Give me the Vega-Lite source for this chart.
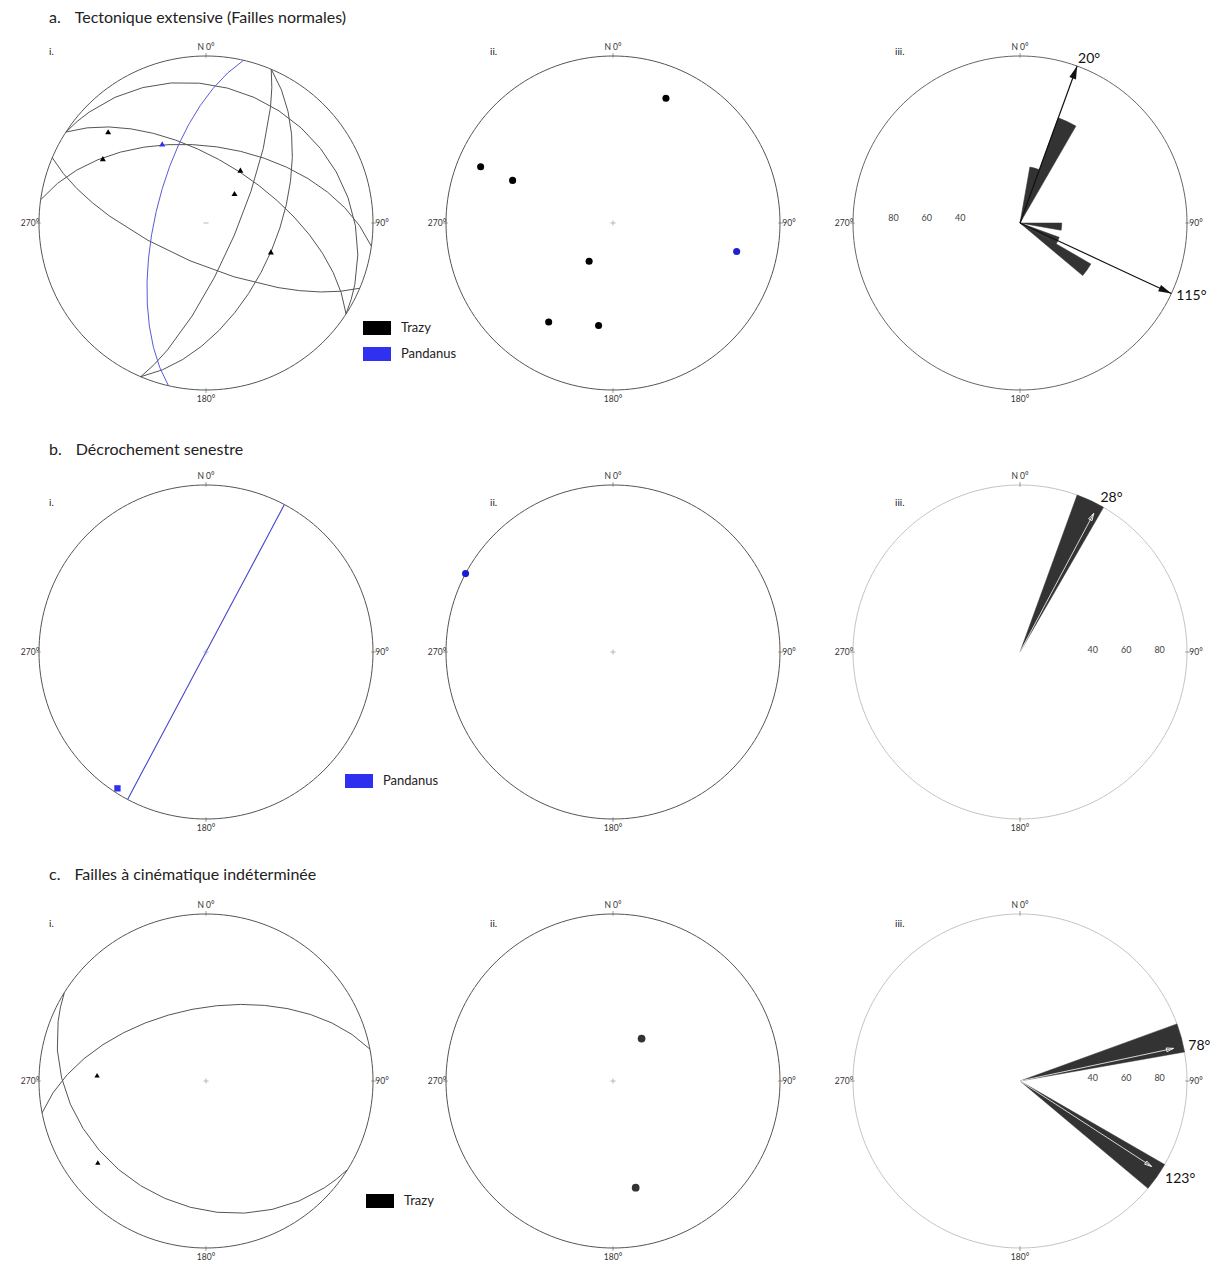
{
  "$schema": "https://vega.github.io/schema/vega-lite/v6.json",
  "background": "white",
  "padding": {"left": 11, "top": 10, "right": 0, "bottom": 0},
  "autosize": {"type": "pad"},
  "columns": 3,
  "spacing": {"row": 101, "column": 17},
  "bounds": "flush",
  "align": "all",
  "resolve": {
    "scale": {"color": "independent", "theta": "independent", "radius": "independent"},
    "legend": {"color": "independent"}
  },
  "config": {
    "view": {"stroke": null},
    "title": {"anchor": "start", "frame": "group", "font": "Lato", "fontSize": 16, "fontWeight": "normal", "color": "#222", "subtitleFont": "Lato", "subtitleFontSize": 10, "subtitleColor": "#222"},
    "legend": {"orient": "none", "title": null, "symbolType": "M-1,-0.5H1V0.5H-1Z", "symbolSize": 784, "symbolStrokeWidth": 0, "symbolOpacity": 1, "labelFont": "Lato", "labelFontSize": 13, "labelColor": "#222", "labelOffset": 10, "rowPadding": 5, "padding": 0}
  },
  "datasets": {
    "card": [{"az": 0, "plunge": 0, "label": "N 0°"}, {"az": 90, "plunge": 0, "label": "90°"}, {"az": 180, "plunge": 0, "label": "180°"}, {"az": 270, "plunge": 0, "label": "270°"}],
    "center": [{"trend": 0, "plunge": 90}],
    "nums": [{"v": 40, "label": "40"}, {"v": 60, "label": "60"}, {"v": 80, "label": "80"}],
    "planesA": [
      {"type": "Feature", "properties": {"site": "Trazy", "dipdir": 203, "dip": 70}, "geometry": {"type": "LineString", "coordinates": [[113, 0], [203, 70], [293, 0]]}},
      {"type": "Feature", "properties": {"site": "Trazy", "dipdir": 113, "dip": 75}, "geometry": {"type": "LineString", "coordinates": [[23, 0], [113, 75], [203, 0]]}},
      {"type": "Feature", "properties": {"site": "Trazy", "dipdir": 113, "dip": 55}, "geometry": {"type": "LineString", "coordinates": [[23, 0], [113, 55], [203, 0]]}},
      {"type": "Feature", "properties": {"site": "Trazy", "dipdir": 33, "dip": 21}, "geometry": {"type": "LineString", "coordinates": [[303, 0], [33, 21], [123, 0]]}},
      {"type": "Feature", "properties": {"site": "Trazy", "dipdir": 33, "dip": 60}, "geometry": {"type": "LineString", "coordinates": [[303, 0], [33, 60], [123, 0]]}},
      {"type": "Feature", "properties": {"site": "Trazy", "dipdir": 8, "dip": 52}, "geometry": {"type": "LineString", "coordinates": [[278, 0], [8, 52], [98, 0]]}}
    ],
    "planesAP": [
      {"type": "Feature", "properties": {"site": "Pandanus", "dipdir": 283, "dip": 65}, "geometry": {"type": "LineString", "coordinates": [[193, 0], [283, 65], [13, 0]]}}
    ],
    "linA": [
      {"site": "Trazy", "trend": 313, "plunge": 21}, {"site": "Trazy", "trend": 302, "plunge": 28},
      {"site": "Trazy", "trend": 33, "plunge": 59}, {"site": "Trazy", "trend": 44, "plunge": 70},
      {"site": "Trazy", "trend": 114, "plunge": 55}, {"site": "Pandanus", "trend": 331, "plunge": 45}
    ],
    "polesA": [
      {"site": "Trazy", "trend": 23, "plunge": 20}, {"site": "Trazy", "trend": 293, "plunge": 15},
      {"site": "Trazy", "trend": 293, "plunge": 35}, {"site": "Trazy", "trend": 212, "plunge": 68},
      {"site": "Trazy", "trend": 213, "plunge": 30}, {"site": "Trazy", "trend": 188, "plunge": 38},
      {"site": "Pandanus", "trend": 103, "plunge": 25}
    ],
    "roseA": [{"from": 10, "to": 20, "v": 34}, {"from": 20, "to": 30, "v": 67}, {"from": 90, "to": 100, "v": 25}, {"from": 110, "to": 120, "v": 25}, {"from": 120, "to": 130, "v": 49}],
    "arrA": [
      {"type": "Feature", "properties": {"az": 20}, "geometry": {"type": "LineString", "coordinates": [[0, 90], [20, 0]]}},
      {"type": "Feature", "properties": {"az": 115}, "geometry": {"type": "LineString", "coordinates": [[0, 90], [115, 0]]}}
    ],
    "headA": [{"az": 20, "plunge": 0}, {"az": 115, "plunge": 0}],
    "planesB": [
      {"type": "Feature", "properties": {"site": "Pandanus", "dipdir": 298, "dip": 90}, "geometry": {"type": "LineString", "coordinates": [[208, 0], [298, 90], [28, 0]]}}
    ],
    "linB": [{"site": "Pandanus", "trend": 213, "plunge": 3}],
    "polesB": [{"site": "Pandanus", "trend": 298, "plunge": 0}],
    "roseB": [{"from": 20, "to": 30, "v": 100}],
    "meanB": [{"type": "Feature", "properties": {"az": 28}, "geometry": {"type": "LineString", "coordinates": [[0, 90], [28, 6.7]]}}],
    "meanHeadB": [{"az": 28, "plunge": 6.7}],
    "planesC": [
      {"type": "Feature", "properties": {"site": "Trazy", "dipdir": 212, "dip": 27}, "geometry": {"type": "LineString", "coordinates": [[122, 0], [212, 27], [302, 0]]}},
      {"type": "Feature", "properties": {"site": "Trazy", "dipdir": 349, "dip": 54}, "geometry": {"type": "LineString", "coordinates": [[259, 0], [349, 54], [79, 0]]}}
    ],
    "linC": [{"site": "Trazy", "trend": 273, "plunge": 35}, {"site": "Trazy", "trend": 233, "plunge": 20}],
    "polesC": [{"site": "Trazy", "trend": 34, "plunge": 65}, {"site": "Trazy", "trend": 168, "plunge": 35}],
    "roseC": [{"from": 70, "to": 80, "v": 100}, {"from": 120, "to": 130, "v": 100}],
    "meanC": [
      {"type": "Feature", "properties": {"az": 78}, "geometry": {"type": "LineString", "coordinates": [[0, 90], [78, 6.7]]}},
      {"type": "Feature", "properties": {"az": 123}, "geometry": {"type": "LineString", "coordinates": [[0, 90], [123, 6.7]]}}
    ],
    "meanHeadC": [{"az": 78, "plunge": 6.7}, {"az": 123, "plunge": 6.7}]
  },
  "concat": [
    {
      "width": 390, "height": 328,
      "title": {"text": "a.\u2003\u2009Tectonique extensive (Failles normales)", "subtitle": "\u2003\u2003\u2003\u2002i.", "dx": 38, "offset": -14, "subtitlePadding": 21},
      "projection": {"type": "azimuthalEqualArea", "rotate": [0, -90, 0], "reflectY": true, "clipAngle": 90, "scale": 118.09, "translate": [195, 164]},
      "layer": [
        {"data": {"sphere": true}, "mark": {"type": "geoshape", "clip": false, "filled": false, "stroke": "#555", "strokeWidth": 1}},
        {"data": {"name": "planesA"}, "mark": {"type": "geoshape", "clip": false, "filled": false, "stroke": "#555", "strokeWidth": 1}},
        {"data": {"name": "planesAP"}, "mark": {"type": "geoshape", "clip": false, "filled": false, "stroke": "#5a5ad6", "strokeWidth": 1}},
        {"data": {"name": "center"}, "mark": {"type": "point", "clip": false, "shape": "M-1,0L1,0", "size": 25, "filled": false, "stroke": "#999", "strokeWidth": 1},
         "encoding": {"longitude": {"field": "trend", "type": "quantitative"}, "latitude": {"field": "plunge", "type": "quantitative"}}},
        {"data": {"name": "card"}, "mark": {"type": "point", "clip": false, "shape": "M0,0.6L0,-1", "size": 36, "filled": false, "stroke": "#555", "strokeWidth": 0.8},
         "encoding": {"longitude": {"field": "az", "type": "quantitative"}, "latitude": {"field": "plunge", "type": "quantitative"}, "angle": {"field": "az", "type": "quantitative", "scale": null}}},
        {"data": {"name": "card"}, "mark": {"type": "text", "font": "Lato", "fontSize": 8.5, "color": "#333", "radiusOffset": 9},
         "encoding": {"theta": {"field": "az", "type": "quantitative", "stack": false, "scale": {"domain": [0, 360], "range": [0, 6.283185307179586]}}, "radius": {"datum": 100, "type": "quantitative", "scale": {"type": "linear", "domain": [0, 100], "range": [0, 167], "zero": true}}, "text": {"field": "label"}}},
        {"data": {"name": "linA"}, "mark": {"type": "point", "clip": false, "shape": "triangle-up", "size": 36, "filled": true, "opacity": 1},
         "encoding": {"longitude": {"field": "trend", "type": "quantitative"}, "latitude": {"field": "plunge", "type": "quantitative"},
           "color": {"field": "site", "type": "nominal", "scale": {"domain": ["Trazy", "Pandanus"], "range": ["#000000", "#3030f0"]}, "legend": {"legendX": 352, "legendY": 255}}}}
      ]
    },
    {
      "width": 390, "height": 328,
      "title": {"text": "\u00a0", "subtitle": "ii.", "dx": 72, "offset": -14, "subtitlePadding": 21},
      "projection": {"type": "azimuthalEqualArea", "rotate": [0, -90, 0], "reflectY": true, "clipAngle": 90, "scale": 118.09, "translate": [195, 164]},
      "layer": [
        {"data": {"sphere": true}, "mark": {"type": "geoshape", "clip": false, "filled": false, "stroke": "#555", "strokeWidth": 1}},
        {"data": {"name": "center"}, "mark": {"type": "point", "clip": false, "shape": "M-1,0L1,0M0,-1L0,1", "size": 25, "filled": false, "stroke": "#999", "strokeWidth": 1},
         "encoding": {"longitude": {"field": "trend", "type": "quantitative"}, "latitude": {"field": "plunge", "type": "quantitative"}}},
        {"data": {"name": "card"}, "mark": {"type": "point", "clip": false, "shape": "M0,0.6L0,-1", "size": 36, "filled": false, "stroke": "#555", "strokeWidth": 0.8},
         "encoding": {"longitude": {"field": "az", "type": "quantitative"}, "latitude": {"field": "plunge", "type": "quantitative"}, "angle": {"field": "az", "type": "quantitative", "scale": null}}},
        {"data": {"name": "card"}, "mark": {"type": "text", "font": "Lato", "fontSize": 8.5, "color": "#333", "radiusOffset": 9},
         "encoding": {"theta": {"field": "az", "type": "quantitative", "stack": false, "scale": {"domain": [0, 360], "range": [0, 6.283185307179586]}}, "radius": {"datum": 100, "type": "quantitative", "scale": {"type": "linear", "domain": [0, 100], "range": [0, 167], "zero": true}}, "text": {"field": "label"}}},
        {"data": {"name": "polesA"}, "mark": {"type": "point", "clip": false, "shape": "circle", "size": 50, "filled": true, "opacity": 1},
         "encoding": {"longitude": {"field": "trend", "type": "quantitative"}, "latitude": {"field": "plunge", "type": "quantitative"},
           "color": {"field": "site", "type": "nominal", "scale": {"domain": ["Trazy", "Pandanus"], "range": ["#000000", "#2020d0"]}, "legend": null}}}
      ]
    },
    {
      "width": 390, "height": 328,
      "title": {"text": "\u00a0", "subtitle": "iii.", "dx": 70, "offset": -14, "subtitlePadding": 21},
      "projection": {"type": "azimuthalEqualArea", "rotate": [0, -90, 0], "reflectY": true, "clipAngle": 90, "scale": 118.09, "translate": [195, 164]},
      "layer": [
        {"data": {"sphere": true}, "mark": {"type": "geoshape", "clip": false, "filled": false, "stroke": "#666", "strokeWidth": 1}},
        {"data": {"name": "roseA"}, "mark": {"type": "arc", "clip": false, "color": "#333", "stroke": "#333", "strokeWidth": 0.5},
         "encoding": {"theta": {"field": "from", "type": "quantitative", "stack": false, "scale": {"domain": [0, 360], "range": [0, 6.283185307179586]}}, "theta2": {"field": "to"},
           "radius": {"field": "v", "type": "quantitative", "scale": {"type": "linear", "domain": [0, 100], "range": [0, 167], "zero": true}}}},
        {"data": {"name": "arrA"}, "mark": {"type": "geoshape", "clip": false, "filled": false, "stroke": "#111", "strokeWidth": 1.2}},
        {"data": {"name": "headA"}, "mark": {"type": "point", "clip": false, "shape": "M0,0L-0.35,1.3L0.35,1.3Z", "size": 400, "filled": true, "color": "#111", "opacity": 1},
         "encoding": {"longitude": {"field": "az", "type": "quantitative"}, "latitude": {"field": "plunge", "type": "quantitative"}, "angle": {"field": "az", "type": "quantitative", "scale": null}}},
        {"data": {"name": "nums"}, "mark": {"type": "text", "font": "Lato", "fontSize": 9, "color": "#444", "dx": 7, "dy": -5},
         "encoding": {"theta": {"datum": 270, "type": "quantitative", "scale": {"domain": [0, 360], "range": [0, 6.283185307179586]}}, "radius": {"field": "v", "type": "quantitative", "scale": {"type": "linear", "domain": [0, 100], "range": [0, 167], "zero": true}}, "text": {"field": "label"}}},
        {"data": {"name": "card"}, "mark": {"type": "point", "clip": false, "shape": "M0,0.6L0,-1", "size": 36, "filled": false, "stroke": "#555", "strokeWidth": 0.8},
         "encoding": {"longitude": {"field": "az", "type": "quantitative"}, "latitude": {"field": "plunge", "type": "quantitative"}, "angle": {"field": "az", "type": "quantitative", "scale": null}}},
        {"data": {"name": "card"}, "mark": {"type": "text", "font": "Lato", "fontSize": 8.5, "color": "#333", "radiusOffset": 9},
         "encoding": {"theta": {"field": "az", "type": "quantitative", "stack": false, "scale": {"domain": [0, 360], "range": [0, 6.283185307179586]}}, "radius": {"datum": 100, "type": "quantitative", "scale": {"type": "linear", "domain": [0, 100], "range": [0, 167], "zero": true}}, "text": {"field": "label"}}},
        {"data": {"values": [{"az": 20, "label": "20°"}]}, "mark": {"type": "text", "font": "Lato", "fontSize": 14, "color": "#111", "align": "left", "baseline": "middle", "dx": 1, "dy": -7},
         "encoding": {"theta": {"field": "az", "type": "quantitative", "stack": false, "scale": {"domain": [0, 360], "range": [0, 6.283185307179586]}}, "radius": {"datum": 100, "type": "quantitative", "scale": {"type": "linear", "domain": [0, 100], "range": [0, 167], "zero": true}}, "text": {"field": "label"}}},
        {"data": {"values": [{"az": 115, "label": "115°"}]}, "mark": {"type": "text", "font": "Lato", "fontSize": 14, "color": "#111", "align": "left", "baseline": "middle", "dx": 5, "dy": 2},
         "encoding": {"theta": {"field": "az", "type": "quantitative", "stack": false, "scale": {"domain": [0, 360], "range": [0, 6.283185307179586]}}, "radius": {"datum": 100, "type": "quantitative", "scale": {"type": "linear", "domain": [0, 100], "range": [0, 167], "zero": true}}, "text": {"field": "label"}}}
      ]
    },
    {
      "width": 390, "height": 328,
      "title": {"text": "b.\u2003\u2009Décrochement senestre", "subtitle": "\u2003\u2003\u2003\u2002i.", "dx": 38, "offset": -36, "subtitlePadding": 40},
      "projection": {"type": "azimuthalEqualArea", "rotate": [0, -90, 0], "reflectY": true, "clipAngle": 90, "scale": 118.09, "translate": [195, 164]},
      "layer": [
        {"data": {"sphere": true}, "mark": {"type": "geoshape", "clip": false, "filled": false, "stroke": "#555", "strokeWidth": 1}},
        {"data": {"name": "planesB"}, "mark": {"type": "geoshape", "clip": false, "filled": false, "stroke": "#4646cc", "strokeWidth": 1.1}},
        {"data": {"name": "center"}, "mark": {"type": "point", "clip": false, "shape": "M-1,0L1,0M0,-1L0,1", "size": 25, "filled": false, "stroke": "#8888dd", "strokeWidth": 1},
         "encoding": {"longitude": {"field": "trend", "type": "quantitative"}, "latitude": {"field": "plunge", "type": "quantitative"}}},
        {"data": {"name": "card"}, "mark": {"type": "point", "clip": false, "shape": "M0,0.6L0,-1", "size": 36, "filled": false, "stroke": "#555", "strokeWidth": 0.8},
         "encoding": {"longitude": {"field": "az", "type": "quantitative"}, "latitude": {"field": "plunge", "type": "quantitative"}, "angle": {"field": "az", "type": "quantitative", "scale": null}}},
        {"data": {"name": "card"}, "mark": {"type": "text", "font": "Lato", "fontSize": 8.5, "color": "#333", "radiusOffset": 9},
         "encoding": {"theta": {"field": "az", "type": "quantitative", "stack": false, "scale": {"domain": [0, 360], "range": [0, 6.283185307179586]}}, "radius": {"datum": 100, "type": "quantitative", "scale": {"type": "linear", "domain": [0, 100], "range": [0, 167], "zero": true}}, "text": {"field": "label"}}},
        {"data": {"name": "linB"}, "mark": {"type": "point", "clip": false, "shape": "square", "size": 40, "filled": true, "opacity": 1},
         "encoding": {"longitude": {"field": "trend", "type": "quantitative"}, "latitude": {"field": "plunge", "type": "quantitative"},
           "color": {"field": "site", "type": "nominal", "scale": {"domain": ["Pandanus"], "range": ["#2f2fef"]}, "legend": {"legendX": 334, "legendY": 279}}}}
      ]
    },
    {
      "width": 390, "height": 328,
      "title": {"text": "\u00a0", "subtitle": "ii.", "dx": 72, "offset": -36, "subtitlePadding": 40},
      "projection": {"type": "azimuthalEqualArea", "rotate": [0, -90, 0], "reflectY": true, "clipAngle": 90, "scale": 118.09, "translate": [195, 164]},
      "layer": [
        {"data": {"sphere": true}, "mark": {"type": "geoshape", "clip": false, "filled": false, "stroke": "#555", "strokeWidth": 1}},
        {"data": {"name": "center"}, "mark": {"type": "point", "clip": false, "shape": "M-1,0L1,0M0,-1L0,1", "size": 25, "filled": false, "stroke": "#999", "strokeWidth": 1},
         "encoding": {"longitude": {"field": "trend", "type": "quantitative"}, "latitude": {"field": "plunge", "type": "quantitative"}}},
        {"data": {"name": "card"}, "mark": {"type": "point", "clip": false, "shape": "M0,0.6L0,-1", "size": 36, "filled": false, "stroke": "#555", "strokeWidth": 0.8},
         "encoding": {"longitude": {"field": "az", "type": "quantitative"}, "latitude": {"field": "plunge", "type": "quantitative"}, "angle": {"field": "az", "type": "quantitative", "scale": null}}},
        {"data": {"name": "card"}, "mark": {"type": "text", "font": "Lato", "fontSize": 8.5, "color": "#333", "radiusOffset": 9},
         "encoding": {"theta": {"field": "az", "type": "quantitative", "stack": false, "scale": {"domain": [0, 360], "range": [0, 6.283185307179586]}}, "radius": {"datum": 100, "type": "quantitative", "scale": {"type": "linear", "domain": [0, 100], "range": [0, 167], "zero": true}}, "text": {"field": "label"}}},
        {"data": {"name": "polesB"}, "mark": {"type": "point", "clip": false, "shape": "circle", "size": 50, "filled": true, "opacity": 1},
         "encoding": {"longitude": {"field": "trend", "type": "quantitative"}, "latitude": {"field": "plunge", "type": "quantitative"},
           "color": {"field": "site", "type": "nominal", "scale": {"domain": ["Pandanus"], "range": ["#1c1cd0"]}, "legend": null}}}
      ]
    },
    {
      "width": 390, "height": 328,
      "title": {"text": "\u00a0", "subtitle": "iii.", "dx": 70, "offset": -36, "subtitlePadding": 40},
      "projection": {"type": "azimuthalEqualArea", "rotate": [0, -90, 0], "reflectY": true, "clipAngle": 90, "scale": 118.09, "translate": [195, 164]},
      "layer": [
        {"data": {"sphere": true}, "mark": {"type": "geoshape", "clip": false, "filled": false, "stroke": "#c4c4c4", "strokeWidth": 1}},
        {"data": {"name": "roseB"}, "mark": {"type": "arc", "clip": false, "color": "#333", "stroke": "#333", "strokeWidth": 0.5},
         "encoding": {"theta": {"field": "from", "type": "quantitative", "stack": false, "scale": {"domain": [0, 360], "range": [0, 6.283185307179586]}}, "theta2": {"field": "to"},
           "radius": {"field": "v", "type": "quantitative", "scale": {"type": "linear", "domain": [0, 100], "range": [0, 167], "zero": true}}}},
        {"data": {"name": "meanB"}, "mark": {"type": "geoshape", "clip": false, "filled": false, "stroke": "#ffffff", "strokeWidth": 0.8}},
        {"data": {"name": "meanHeadB"}, "mark": {"type": "point", "clip": false, "shape": "M0,0L-0.35,1.3L0.35,1.3Z", "size": 120, "filled": false, "stroke": "#ffffff", "strokeWidth": 0.8, "opacity": 1},
         "encoding": {"longitude": {"field": "az", "type": "quantitative"}, "latitude": {"field": "plunge", "type": "quantitative"}, "angle": {"field": "az", "type": "quantitative", "scale": null}}},
        {"data": {"name": "nums"}, "mark": {"type": "text", "font": "Lato", "fontSize": 9, "color": "#444", "dx": 6, "dy": -2},
         "encoding": {"theta": {"datum": 90, "type": "quantitative", "scale": {"domain": [0, 360], "range": [0, 6.283185307179586]}}, "radius": {"field": "v", "type": "quantitative", "scale": {"type": "linear", "domain": [0, 100], "range": [0, 167], "zero": true}}, "text": {"field": "label"}}},
        {"data": {"name": "card"}, "mark": {"type": "point", "clip": false, "shape": "M0,0.6L0,-1", "size": 36, "filled": false, "stroke": "#555", "strokeWidth": 0.8},
         "encoding": {"longitude": {"field": "az", "type": "quantitative"}, "latitude": {"field": "plunge", "type": "quantitative"}, "angle": {"field": "az", "type": "quantitative", "scale": null}}},
        {"data": {"name": "card"}, "mark": {"type": "text", "font": "Lato", "fontSize": 8.5, "color": "#333", "radiusOffset": 9},
         "encoding": {"theta": {"field": "az", "type": "quantitative", "stack": false, "scale": {"domain": [0, 360], "range": [0, 6.283185307179586]}}, "radius": {"datum": 100, "type": "quantitative", "scale": {"type": "linear", "domain": [0, 100], "range": [0, 167], "zero": true}}, "text": {"field": "label"}}},
        {"data": {"values": [{"az": 28, "label": "28°"}]}, "mark": {"type": "text", "font": "Lato", "fontSize": 14, "color": "#111", "align": "left", "baseline": "middle", "dx": 2, "dy": -7},
         "encoding": {"theta": {"field": "az", "type": "quantitative", "stack": false, "scale": {"domain": [0, 360], "range": [0, 6.283185307179586]}}, "radius": {"datum": 100, "type": "quantitative", "scale": {"type": "linear", "domain": [0, 100], "range": [0, 167], "zero": true}}, "text": {"field": "label"}}}
      ]
    },
    {
      "width": 390, "height": 328,
      "title": {"text": "c.\u2003\u2009Failles à cinématique indéterminée", "subtitle": "\u2003\u2003\u2003\u2002i.", "dx": 38, "offset": -28, "subtitlePadding": 36},
      "projection": {"type": "azimuthalEqualArea", "rotate": [0, -90, 0], "reflectY": true, "clipAngle": 90, "scale": 118.09, "translate": [195, 164]},
      "layer": [
        {"data": {"sphere": true}, "mark": {"type": "geoshape", "clip": false, "filled": false, "stroke": "#555", "strokeWidth": 1}},
        {"data": {"name": "planesC"}, "mark": {"type": "geoshape", "clip": false, "filled": false, "stroke": "#555", "strokeWidth": 1}},
        {"data": {"name": "center"}, "mark": {"type": "point", "clip": false, "shape": "M-1,0L1,0M0,-1L0,1", "size": 25, "filled": false, "stroke": "#999", "strokeWidth": 1},
         "encoding": {"longitude": {"field": "trend", "type": "quantitative"}, "latitude": {"field": "plunge", "type": "quantitative"}}},
        {"data": {"name": "card"}, "mark": {"type": "point", "clip": false, "shape": "M0,0.6L0,-1", "size": 36, "filled": false, "stroke": "#555", "strokeWidth": 0.8},
         "encoding": {"longitude": {"field": "az", "type": "quantitative"}, "latitude": {"field": "plunge", "type": "quantitative"}, "angle": {"field": "az", "type": "quantitative", "scale": null}}},
        {"data": {"name": "card"}, "mark": {"type": "text", "font": "Lato", "fontSize": 8.5, "color": "#333", "radiusOffset": 9},
         "encoding": {"theta": {"field": "az", "type": "quantitative", "stack": false, "scale": {"domain": [0, 360], "range": [0, 6.283185307179586]}}, "radius": {"datum": 100, "type": "quantitative", "scale": {"type": "linear", "domain": [0, 100], "range": [0, 167], "zero": true}}, "text": {"field": "label"}}},
        {"data": {"name": "linC"}, "mark": {"type": "point", "clip": false, "shape": "triangle-up", "size": 28, "filled": true, "opacity": 1},
         "encoding": {"longitude": {"field": "trend", "type": "quantitative"}, "latitude": {"field": "plunge", "type": "quantitative"},
           "color": {"field": "site", "type": "nominal", "scale": {"domain": ["Trazy"], "range": ["#000000"]}, "legend": {"legendX": 355, "legendY": 270}}}}
      ]
    },
    {
      "width": 390, "height": 328,
      "title": {"text": "\u00a0", "subtitle": "ii.", "dx": 72, "offset": -28, "subtitlePadding": 36},
      "projection": {"type": "azimuthalEqualArea", "rotate": [0, -90, 0], "reflectY": true, "clipAngle": 90, "scale": 118.09, "translate": [195, 164]},
      "layer": [
        {"data": {"sphere": true}, "mark": {"type": "geoshape", "clip": false, "filled": false, "stroke": "#555", "strokeWidth": 1}},
        {"data": {"name": "center"}, "mark": {"type": "point", "clip": false, "shape": "M-1,0L1,0M0,-1L0,1", "size": 25, "filled": false, "stroke": "#999", "strokeWidth": 1},
         "encoding": {"longitude": {"field": "trend", "type": "quantitative"}, "latitude": {"field": "plunge", "type": "quantitative"}}},
        {"data": {"name": "card"}, "mark": {"type": "point", "clip": false, "shape": "M0,0.6L0,-1", "size": 36, "filled": false, "stroke": "#555", "strokeWidth": 0.8},
         "encoding": {"longitude": {"field": "az", "type": "quantitative"}, "latitude": {"field": "plunge", "type": "quantitative"}, "angle": {"field": "az", "type": "quantitative", "scale": null}}},
        {"data": {"name": "card"}, "mark": {"type": "text", "font": "Lato", "fontSize": 8.5, "color": "#333", "radiusOffset": 9},
         "encoding": {"theta": {"field": "az", "type": "quantitative", "stack": false, "scale": {"domain": [0, 360], "range": [0, 6.283185307179586]}}, "radius": {"datum": 100, "type": "quantitative", "scale": {"type": "linear", "domain": [0, 100], "range": [0, 167], "zero": true}}, "text": {"field": "label"}}},
        {"data": {"name": "polesC"}, "mark": {"type": "point", "clip": false, "shape": "circle", "size": 60, "filled": true, "opacity": 1},
         "encoding": {"longitude": {"field": "trend", "type": "quantitative"}, "latitude": {"field": "plunge", "type": "quantitative"},
           "color": {"field": "site", "type": "nominal", "scale": {"domain": ["Trazy"], "range": ["#333333"]}, "legend": null}}}
      ]
    },
    {
      "width": 390, "height": 328,
      "title": {"text": "\u00a0", "subtitle": "iii.", "dx": 70, "offset": -28, "subtitlePadding": 36},
      "projection": {"type": "azimuthalEqualArea", "rotate": [0, -90, 0], "reflectY": true, "clipAngle": 90, "scale": 118.09, "translate": [195, 164]},
      "layer": [
        {"data": {"sphere": true}, "mark": {"type": "geoshape", "clip": false, "filled": false, "stroke": "#c4c4c4", "strokeWidth": 1}},
        {"data": {"name": "roseC"}, "mark": {"type": "arc", "clip": false, "color": "#333", "stroke": "#333", "strokeWidth": 0.5},
         "encoding": {"theta": {"field": "from", "type": "quantitative", "stack": false, "scale": {"domain": [0, 360], "range": [0, 6.283185307179586]}}, "theta2": {"field": "to"},
           "radius": {"field": "v", "type": "quantitative", "scale": {"type": "linear", "domain": [0, 100], "range": [0, 167], "zero": true}}}},
        {"data": {"name": "meanC"}, "mark": {"type": "geoshape", "clip": false, "filled": false, "stroke": "#ffffff", "strokeWidth": 0.8}},
        {"data": {"name": "meanHeadC"}, "mark": {"type": "point", "clip": false, "shape": "M0,0L-0.35,1.3L0.35,1.3Z", "size": 120, "filled": false, "stroke": "#ffffff", "strokeWidth": 0.8, "opacity": 1},
         "encoding": {"longitude": {"field": "az", "type": "quantitative"}, "latitude": {"field": "plunge", "type": "quantitative"}, "angle": {"field": "az", "type": "quantitative", "scale": null}}},
        {"data": {"name": "nums"}, "mark": {"type": "text", "font": "Lato", "fontSize": 9, "color": "#444", "dx": 6, "dy": -3},
         "encoding": {"theta": {"datum": 90, "type": "quantitative", "scale": {"domain": [0, 360], "range": [0, 6.283185307179586]}}, "radius": {"field": "v", "type": "quantitative", "scale": {"type": "linear", "domain": [0, 100], "range": [0, 167], "zero": true}}, "text": {"field": "label"}}},
        {"data": {"name": "card"}, "mark": {"type": "point", "clip": false, "shape": "M0,0.6L0,-1", "size": 36, "filled": false, "stroke": "#555", "strokeWidth": 0.8},
         "encoding": {"longitude": {"field": "az", "type": "quantitative"}, "latitude": {"field": "plunge", "type": "quantitative"}, "angle": {"field": "az", "type": "quantitative", "scale": null}}},
        {"data": {"name": "card"}, "mark": {"type": "text", "font": "Lato", "fontSize": 8.5, "color": "#333", "radiusOffset": 9},
         "encoding": {"theta": {"field": "az", "type": "quantitative", "stack": false, "scale": {"domain": [0, 360], "range": [0, 6.283185307179586]}}, "radius": {"datum": 100, "type": "quantitative", "scale": {"type": "linear", "domain": [0, 100], "range": [0, 167], "zero": true}}, "text": {"field": "label"}}},
        {"data": {"values": [{"az": 78, "label": "78°"}]}, "mark": {"type": "text", "font": "Lato", "fontSize": 14, "color": "#111", "align": "left", "baseline": "middle", "dx": 5, "dy": 0},
         "encoding": {"theta": {"field": "az", "type": "quantitative", "stack": false, "scale": {"domain": [0, 360], "range": [0, 6.283185307179586]}}, "radius": {"datum": 100, "type": "quantitative", "scale": {"type": "linear", "domain": [0, 100], "range": [0, 167], "zero": true}}, "text": {"field": "label"}}},
        {"data": {"values": [{"az": 123, "label": "123°"}]}, "mark": {"type": "text", "font": "Lato", "fontSize": 14, "color": "#111", "align": "left", "baseline": "middle", "dx": 5, "dy": 7},
         "encoding": {"theta": {"field": "az", "type": "quantitative", "stack": false, "scale": {"domain": [0, 360], "range": [0, 6.283185307179586]}}, "radius": {"datum": 100, "type": "quantitative", "scale": {"type": "linear", "domain": [0, 100], "range": [0, 167], "zero": true}}, "text": {"field": "label"}}}
      ]
    }
  ]
}
